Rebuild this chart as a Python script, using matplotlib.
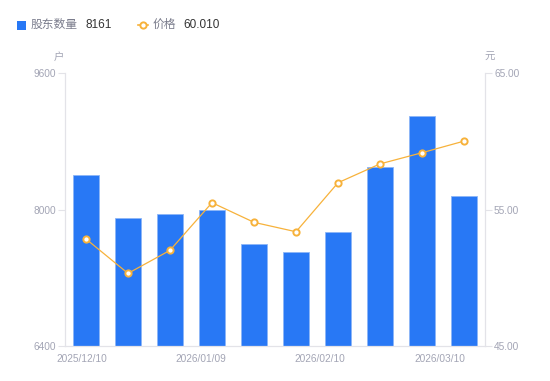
import matplotlib
matplotlib.use("Agg")
import matplotlib.pyplot as plt
from matplotlib.patches import Rectangle
from matplotlib.lines import Line2D

plt.rcParams['font.family'] = ['Liberation Sans', 'Noto Sans CJK SC', 'DejaVu Sans']

# data
dates = ["2025/12/10", "2025/12/19", "2025/12/31", "2026/01/09", "2026/01/20",
         "2026/01/30", "2026/02/10", "2026/02/20", "2026/02/27", "2026/03/10"]
holders = [8404, 7897, 7947, 7993, 7596, 7505, 7740, 8494, 9096, 8161]
price = [52.84, 50.32, 52.01, 55.50, 54.06, 53.37, 56.96, 58.34, 59.16, 60.01]
shown_dates = ["2025/12/10", "2026/01/09", "2026/02/10", "2026/03/10"]
# the date labels sit a little off the bar centres in the original
shown_pos = [-0.095, 2.74, 5.57, 8.43]

BLUE = '#2878f5'
ORANGE = '#f7b23b'
GREY = '#a3a5b5'
AXIS = '#e3e3e8'

fig = plt.figure(figsize=(5.5, 3.81), dpi=100)
ax = fig.add_axes([65/550, 1-346/381, 420/550, 273/381])
ax2 = ax.twinx()

x = list(range(len(dates)))
ax.bar(x, holders, width=0.6, color=BLUE, edgecolor='#8db6f7', linewidth=0.6, zorder=2)
ax.set_xlim(-0.5, len(dates)-0.5)
ax.set_ylim(6400, 9600)
ax.set_yticks([6400, 8000, 9600])

ax2.plot(x, price, color=ORANGE, lw=0.9, marker='o', ms=4.5, mfc='white',
         mec=ORANGE, mew=1.4, zorder=3)
ax2.set_ylim(45, 65)
ax2.set_yticks([45, 55, 65])
ax2.set_yticklabels(["45.00", "55.00", "65.00"])

ax.set_xticks(shown_pos)
ax.set_xticklabels(shown_dates)
ax.tick_params(axis='x', length=0, pad=6, labelsize=7.3, labelcolor=GREY)
ax.tick_params(axis='y', length=5, width=0.8, color=AXIS, pad=1.5, labelsize=7.3, labelcolor=GREY)
ax2.tick_params(axis='y', length=5, width=0.8, color=AXIS, pad=1.5, labelsize=7.3, labelcolor=GREY)

for a in (ax, ax2):
    for s in a.spines.values():
        s.set_visible(False)
ax.spines['left'].set_visible(True)
ax.spines['bottom'].set_visible(True)
ax2.spines['right'].set_visible(True)
for s in (ax.spines['left'], ax.spines['bottom'], ax2.spines['right']):
    s.set_color(AXIS)
    s.set_linewidth(0.9)
ax2.set_zorder(ax.get_zorder() + 1)
ax2.patch.set_visible(False)

# unit labels
fig.text(59/550, 1-57/381, "户", ha='center', va='center', fontsize=7.5, color=GREY)
fig.text(490/550, 1-57/381, "元", ha='center', va='center', fontsize=7.5, color=GREY)

# legend drawn by hand
ly = 1-25/381
fig.patches.append(Rectangle((17/550, 1-29.5/381), 8.5/550, 8.5/381, transform=fig.transFigure,
                             facecolor=BLUE, edgecolor='none'))
fig.text(31/550, ly, "股东数量", ha='left', va='center', fontsize=8.5, color='#7a7c8c')
fig.text(85/550, ly, str(holders[-1]), ha='left', va='center', fontsize=8.5, color='#333333')
fig.lines.append(Line2D([138/550, 148/550], [ly, ly], transform=fig.transFigure,
                        color=ORANGE, lw=1.2, marker='o', markevery=[0], ms=0))
fig.lines.append(Line2D([143/550], [ly], transform=fig.transFigure, color=ORANGE,
                        marker='o', ms=4.5, mfc='white', mec=ORANGE, mew=1.4, lw=0))
fig.text(153/550, ly, "价格", ha='left', va='center', fontsize=8.5, color='#7a7c8c')
fig.text(183/550, ly, "%.3f" % 60.010, ha='left', va='center', fontsize=8.5, color='#333333')

fig.savefig("out.png", dpi=100)
